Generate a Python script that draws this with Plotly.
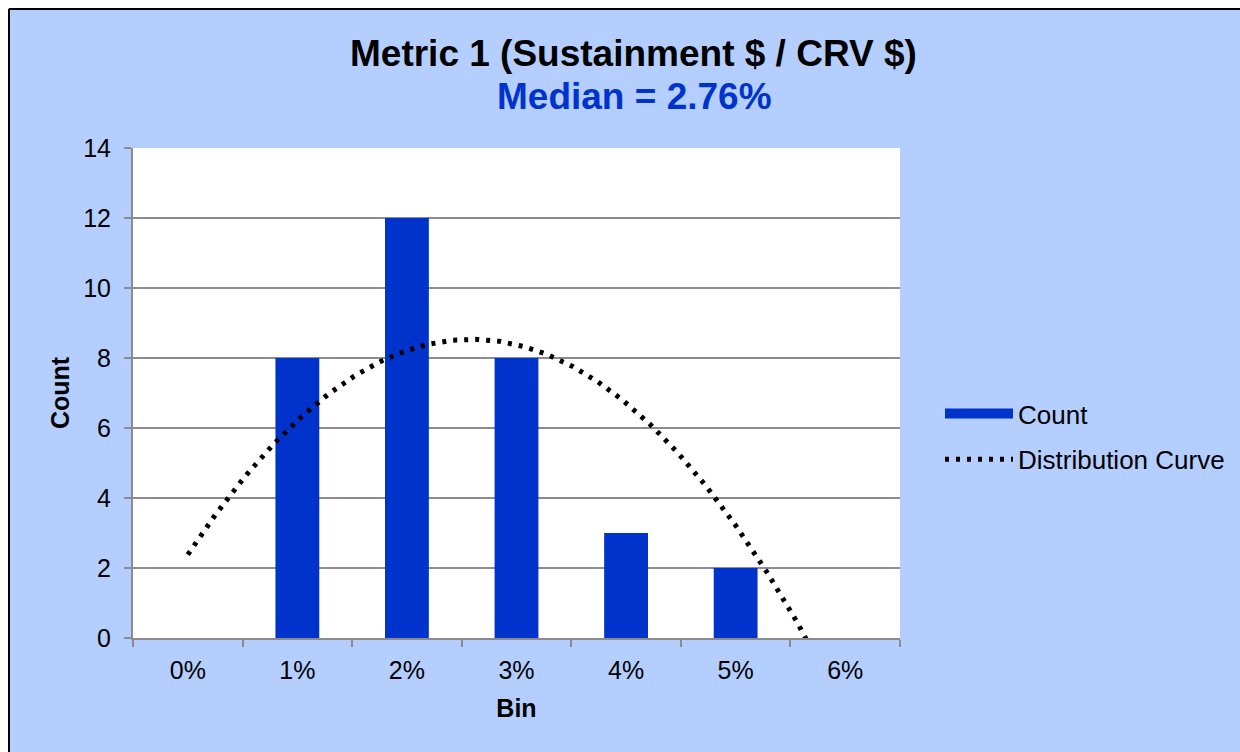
import numpy as np
import plotly.graph_objects as go

bins = ["0%", "1%", "2%", "3%", "4%", "5%", "6%"]
counts = [0, 8, 12, 8, 3, 2, 0]
median_text = "Median = 2.76%"

# Excel style order-2 polynomial trendline through the counts
x_idx = np.arange(len(bins))
coef = np.polyfit(x_idx, counts, 2)
x_curve = np.linspace(0, len(bins) - 1, 400)
y_curve = np.polyval(coef, x_curve)

BLUE = "#0033CC"
BG = "#B3CEFF"
GRID = "#8C8C8C"
FONT = "Arial, Liberation Sans, sans-serif"

L, R, T, B = 133, 340, 148, 114
W, H = 1240, 752
pw, ph = W - L - R, H - T - B


def px_x(p):
    return (p - L) / pw


def px_y(p):
    return (H - B - p) / ph


fig = go.Figure()
fig.add_trace(go.Bar(x=x_idx, y=counts, width=0.4, marker=dict(color=BLUE, line=dict(width=0)),
                     name="Count", showlegend=False))
# legend swatch for bars drawn as a thick line like Excel
fig.add_trace(go.Scatter(x=[None], y=[None], mode="lines", name="Count",
                         line=dict(color=BLUE, width=14), legendgroup="a"))
fig.add_trace(go.Scatter(x=x_curve, y=y_curve, mode="lines", name="Distribution Curve",
                         line=dict(color="black", width=5, dash="4px,7px"), legendgroup="b"))

fig.update_layout(
    width=W, height=H,
    margin=dict(l=L, r=R, t=T, b=B, autoexpand=False),
    paper_bgcolor=BG, plot_bgcolor="white",
    font=dict(family=FONT, size=25, color="black"),
    showlegend=True,
    legend=dict(x=px_x(940), y=px_y(390), xanchor="left", yanchor="top",
                bgcolor="rgba(0,0,0,0)", itemwidth=68, tracegroupgap=9,
                traceorder="grouped", font=dict(size=26)),
    xaxis=dict(range=[-0.5, 6.5], tickvals=list(x_idx), ticktext=bins, ticks="",
               showgrid=False, zeroline=False, showline=True, linecolor=GRID, linewidth=2,
               minor=dict(tick0=-0.5, dtick=1, ticks="outside", ticklen=7, tickcolor=GRID, tickwidth=2),
               title=dict(text="<b>Bin</b>", standoff=16, font=dict(size=25)),
               ticklabelstandoff=9),
    yaxis=dict(range=[0, 14], dtick=2, ticks="outside", ticklen=7, tickcolor=GRID, tickwidth=2,
               showgrid=True, gridcolor=GRID, gridwidth=1.5, zeroline=False,
               showline=True, linecolor=GRID, linewidth=2, ticklabelstandoff=8,
               title=dict(text="<b>Count</b>", standoff=6, font=dict(size=25))),
    annotations=[
        dict(text="<b>Metric 1 (Sustainment $ / CRV $)</b>", x=px_x(633), y=px_y(54),
             xanchor="center", yanchor="middle",
             xref="paper", yref="paper", showarrow=False, font=dict(size=37, color="black")),
        dict(text="<b>" + median_text + "</b>", x=px_x(634), y=px_y(96),
             xanchor="center", yanchor="middle",
             xref="paper", yref="paper", showarrow=False, font=dict(size=37, color=BLUE)),
    ],
    shapes=[
        dict(type="rect", xref="paper", yref="paper", x0=px_x(0), x1=px_x(W), y0=px_y(0), y1=px_y(8),
             fillcolor="white", line=dict(width=0), layer="below"),
        dict(type="rect", xref="paper", yref="paper", x0=px_x(0), x1=px_x(8), y0=px_y(0), y1=px_y(H),
             fillcolor="white", line=dict(width=0), layer="below"),
        dict(type="line", xref="paper", yref="paper", x0=px_x(9), x1=px_x(W + 5), y0=px_y(9), y1=px_y(9),
             line=dict(color="black", width=2)),
        dict(type="line", xref="paper", yref="paper", x0=px_x(9), x1=px_x(9), y0=px_y(9), y1=px_y(H + 5),
             line=dict(color="black", width=2)),
    ],
)

fig.write_html("out.html", config={"displayModeBar": False},
               post_script="document.body.style.margin='0';")
